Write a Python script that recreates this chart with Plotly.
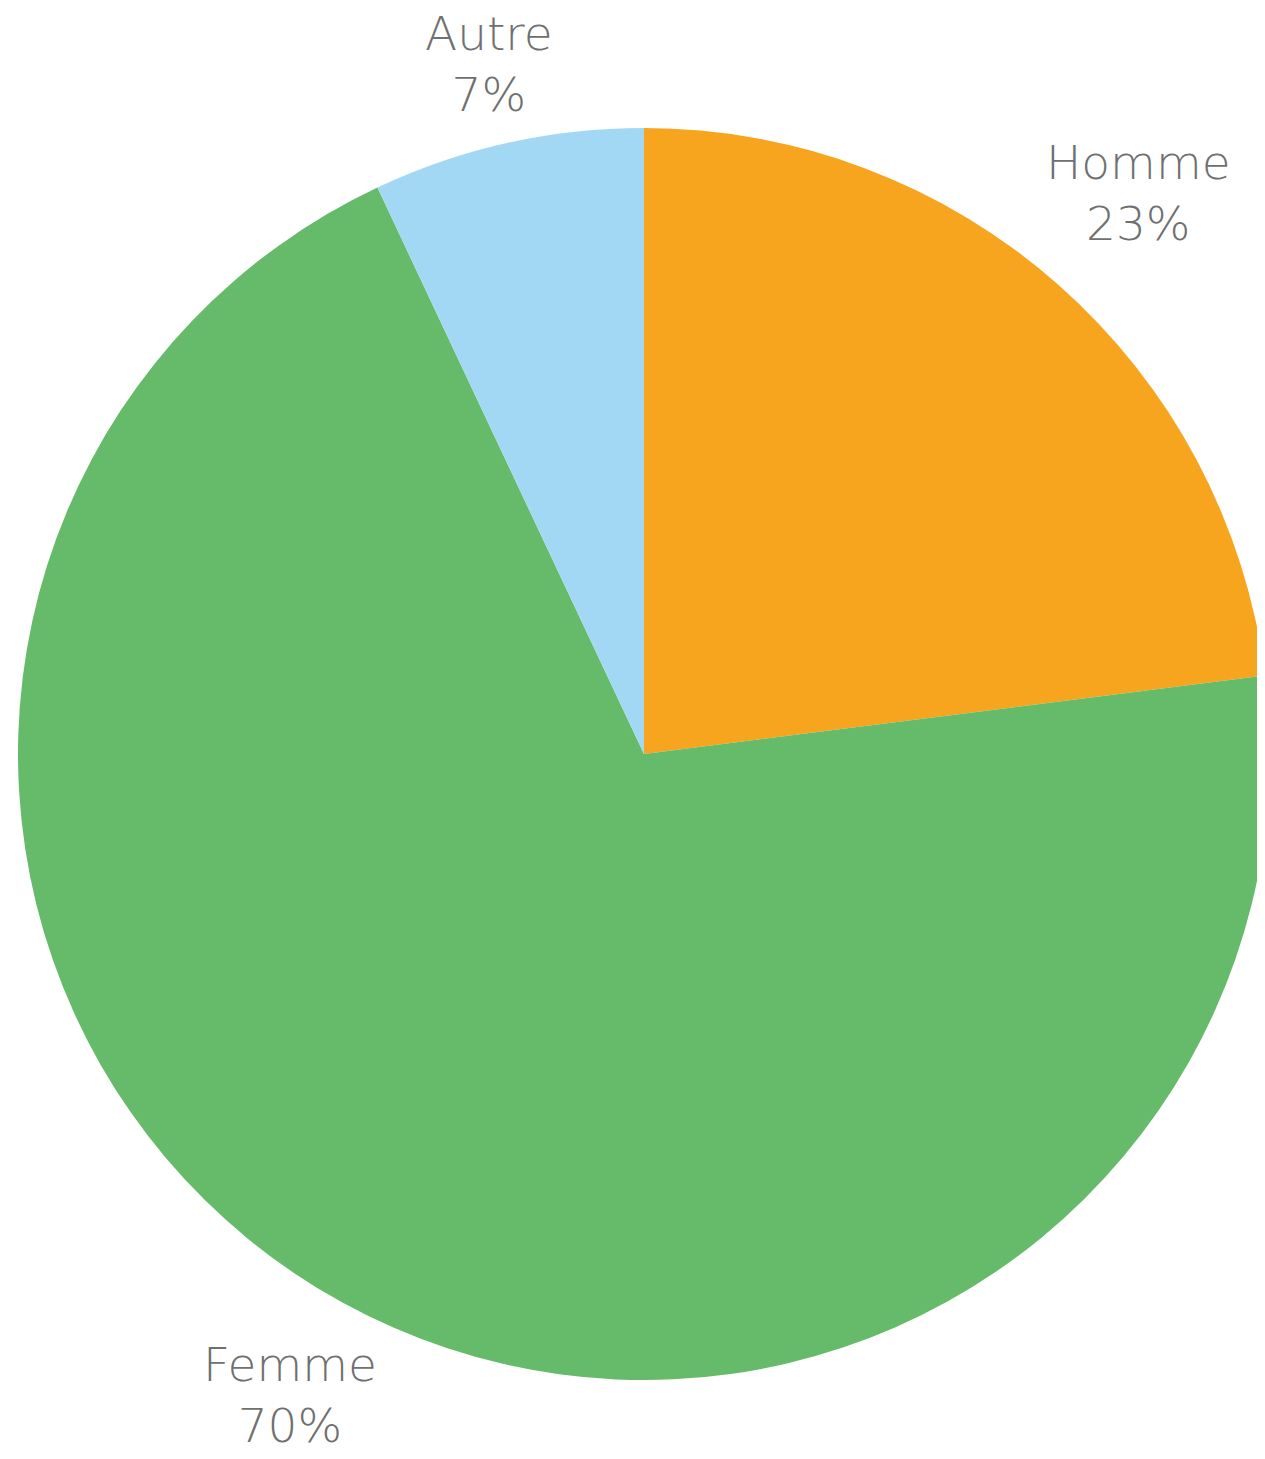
import math
import plotly.graph_objects as go

labels = ["Homme", "Femme", "Autre"]
values = [23, 70, 7]
colors = ["#F7A51E", "#66BB6A", "#A3D8F4"]

W, H = 1265, 1459
ML, MR, MT, MB = 10, 3, 128, 79
PLOT = W - ML - MR          # square plot area => pie radius = PLOT/2
R = PLOT / 2
FS = 47
GAP = 26
INK_H = 92
FONT = "DejaVu Sans"

# approximate advance widths (em) of DejaVu Sans, used to keep labels clear of the pie
ADV = {"A": .684, "u": .634, "t": .392, "r": .411, "e": .615, "H": .752,
       "o": .612, "m": .974, "F": .575}


def text_width(s):
    return sum(ADV.get(c, .62) for c in s) * FS


fig = go.Figure(go.Pie(
    labels=labels,
    values=values,
    sort=False,
    direction="clockwise",
    rotation=0,
    marker=dict(colors=colors, line=dict(width=0)),
    textinfo="none",
    automargin=False,
    showlegend=False,
    hoverinfo="label+percent",
))

# outside labels along the middle angle of each slice, kept inside the figure
total = sum(values)
half_box = 1.3 * FS + 3
cum = 0
for lab, v in zip(labels, values):
    mid = math.radians((cum + v / 2) / total * 360)
    cum += v
    sx, sy = math.sin(mid), math.cos(mid)
    w = text_width(lab)
    d = R + GAP + abs(sx) * w / 2 + abs(sy) * INK_H / 2
    y_fig = MT + R - d * sy
    y_fig = min(max(y_fig, half_box), H - half_box)
    fig.add_annotation(
        x=0.5 + d * sx / PLOT, y=1 - (y_fig - MT) / PLOT,
        xref="paper", yref="paper",
        xanchor="center", yanchor="middle",
        text=f"{lab}<br>{round(v / total * 100)}%",
        showarrow=False,
        font=dict(family=FONT, size=FS, color="#707070", weight=300),
    )

fig.update_layout(
    width=W, height=H,
    margin=dict(l=ML, r=MR, t=MT, b=MB),
    paper_bgcolor="white",
    plot_bgcolor="white",
)

fig.write_html("out.html", post_script="document.body.style.marginTop='0px';")
